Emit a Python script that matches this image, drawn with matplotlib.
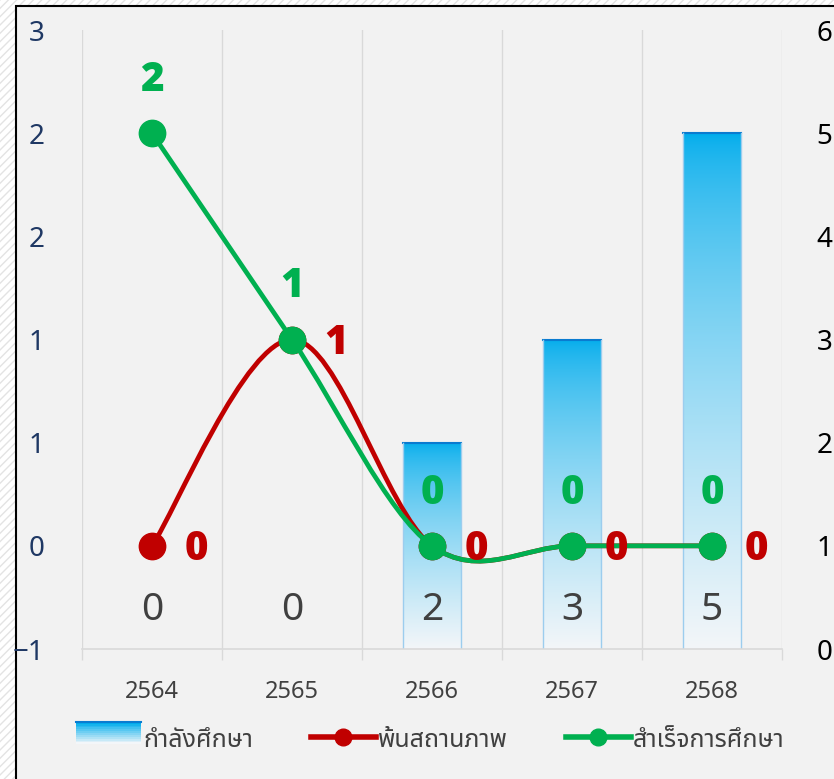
import math
import matplotlib
matplotlib.use('Agg')
import matplotlib.pyplot as plt
import numpy as np
from matplotlib.path import Path
from matplotlib.patches import PathPatch, Rectangle
from matplotlib.lines import Line2D
from matplotlib.legend_handler import HandlerBase
from matplotlib.ticker import FuncFormatter, FixedLocator
from matplotlib import font_manager

# data
years = ['2564', '2565', '2566', '2567', '2568']
studying = [0, 0, 2, 3, 5]          # bars, right axis
dropped = [0, 1, 0, 0, 0]           # red line, left axis
graduated = [2, 1, 0, 0, 0]         # green line, left axis
series_names = ['กำลังศึกษา', 'พ้นสถานภาพ', 'สำเร็จการศึกษา']

names = {f.name for f in font_manager.fontManager.ttflist}
thai = [n for n in ['Noto Sans Thai', 'Noto Sans Thai Looped', 'Noto Sans Thai UI', 'Loma',
                    'Garuda', 'Norasi', 'Waree', 'Sarabun', 'Kanit'] if n in names]
plt.rcParams['font.family'] = ['Noto Sans'] + thai + ['DejaVu Sans']
BOLD = ['Open Sans', 'DejaVu Sans']

GREEN = '#00B050'
RED = '#C00000'
NAVY = '#1F3864'
GREY = '#404040'
BG = '#F2F2F2'


def smooth_path(xs, ys):
    # excel-like smoothed line (catmull-rom as cubic bezier)
    pts = np.column_stack([xs, ys]).astype(float)
    n = len(pts)
    verts = [pts[0]]
    codes = [Path.MOVETO]
    for i in range(n - 1):
        p0 = pts[i - 1] if i > 0 else pts[i]
        p1 = pts[i]
        p2 = pts[i + 1]
        p3 = pts[i + 2] if i + 2 < n else pts[i + 1]
        verts += [p1 + (p2 - p0) / 6, p2 - (p3 - p1) / 6, p2]
        codes += [Path.CURVE4] * 3
    return Path(verts, codes)


fig = plt.figure(figsize=(8.34, 7.79), dpi=100)
fig.patch.set_facecolor('white')
fig.patches.append(Rectangle((0, 0), 1, 1, transform=fig.transFigure, facecolor='white',
                             edgecolor='#E3E3E3', hatch='////', lw=0, zorder=-10))
fig.patches.append(Rectangle((16 / 834, -0.1), 1.1, 1.1 - 6 / 779, transform=fig.transFigure,
                             facecolor=BG, edgecolor='black', lw=1.5, zorder=-9))

ax = fig.add_axes([82 / 834, 130 / 779, 700 / 834, 619 / 779])
ax2 = ax.twinx()
ax.set_zorder(ax2.get_zorder() + 1)
ax.patch.set_visible(False)
ax2.patch.set_visible(False)

x = np.arange(len(years))

# bars with vertical gradient
bw = 0.41
top_c = np.array([0, 172, 236]) / 255
bot_c = np.array([243, 246, 249]) / 255
t = np.linspace(0, 1, 200) ** 0.65
grad = (top_c[None, :] * (1 - t[:, None]) + bot_c[None, :] * t[:, None])[:, None, :]
for xi, v in zip(x, studying):
    if v <= 0:
        continue
    ax2.imshow(grad, extent=[xi - bw / 2, xi + bw / 2, 0, v], origin='upper',
               aspect='auto', zorder=1, interpolation='bilinear')
    ax2.plot([xi - bw / 2, xi + bw / 2], [v, v], color='#0A7BD0', lw=1.5, zorder=2)
    ax2.plot([xi - bw / 2, xi - bw / 2], [0, v], color='#9CCDEE', lw=1, zorder=2)
    ax2.plot([xi + bw / 2, xi + bw / 2], [0, v], color='#9CCDEE', lw=1, zorder=2)
for xi, v in zip(x, studying):
    ax2.annotate(str(v), (xi, 0), xytext=(0, 28), textcoords='offset points',
                 ha='center', va='center', fontsize=28, color=GREY, zorder=3)

ax2.set_ylim(0, 6)
ax2.set_yticks(range(0, 7))
ax2.tick_params(axis='y', length=0, pad=25, labelsize=20, labelcolor='black')

# lines
for vals, col, z in [(dropped, RED, 3), (graduated, GREEN, 5)]:
    ax.add_patch(PathPatch(smooth_path(x, vals), facecolor='none', edgecolor=col,
                           lw=3.4, zorder=z, capstyle='round'))
    ax.plot(x, vals, 'o', color=col, ms=19, zorder=z + 1, mec=col)

for xi, v in zip(x, dropped):
    ax.annotate(str(v), (xi, v), xytext=(32, -3), textcoords='offset points',
                ha='center', va='center', fontsize=29, fontweight='heavy', family=BOLD,
                color=RED, zorder=8)
for xi, v in zip(x, graduated):
    ax.annotate(str(v), (xi, v), xytext=(0, 38), textcoords='offset points',
                ha='center', va='center', fontsize=29, fontweight='heavy', family=BOLD,
                color=GREEN, zorder=8)

ax.set_xlim(-0.5, len(years) - 0.5)
ax.set_ylim(-0.5, 2.5)
ax.yaxis.set_major_locator(FixedLocator(np.arange(-0.5, 2.51, 0.5)))


def half_up(v, pos):
    r = math.floor(abs(v) + 0.5)
    return ('\u2212' if v < 0 and r else '') + str(r)


ax.yaxis.set_major_formatter(FuncFormatter(half_up))
ax.tick_params(axis='y', length=0, pad=27, labelsize=20, labelcolor=NAVY)

ax.set_xticks(x)
ax.set_xticklabels(years)
ax.set_xticks(np.arange(-0.5, len(years), 1), minor=True)
ax.tick_params(axis='x', which='major', length=0, pad=22, labelsize=17, labelcolor=GREY)
ax.tick_params(axis='x', which='minor', length=8, width=1, color='#D9D9D9')
ax.grid(axis='x', which='minor', color='#D9D9D9', lw=1)
ax2.grid(False)

for a in (ax, ax2):
    for s in ['top', 'right', 'left', 'bottom']:
        a.spines[s].set_visible(False)
ax.spines['bottom'].set_visible(True)
ax.spines['bottom'].set_color('#D9D9D9')
ax.spines['bottom'].set_linewidth(1.2)


class GradHandler(HandlerBase):
    def create_artists(self, legend, orig, xd, yd, w, h, fs, trans):
        arts = []
        k = 12
        for j in range(k):
            f = j / (k - 1)
            c = top_c * (1 - f) + bot_c * f
            arts.append(Rectangle((xd, yd + h * (1 - (j + 1) / k)), w, h / k,
                                  facecolor=c, edgecolor='none', transform=trans))
        arts.append(Line2D([xd, xd + w], [yd + h, yd + h], color='#0A7BD0', lw=1.5,
                           transform=trans))
        return arts


bar_proxy = Rectangle((0, 0), 1, 1)
handles = [bar_proxy,
           Line2D([], [], color=RED, lw=4, marker='o', ms=12),
           Line2D([], [], color=GREEN, lw=4, marker='o', ms=12)]
fig.legend(handles, series_names, loc='center', bbox_to_anchor=(0.516, 39 / 779),
           ncol=3, frameon=False, fontsize=18, labelcolor=GREY, handlelength=2.6,
           handleheight=1.0, handletextpad=0.1, columnspacing=2.3,
           handler_map={bar_proxy: GradHandler()})

fig.savefig('out.png', dpi=100, facecolor=fig.get_facecolor())
